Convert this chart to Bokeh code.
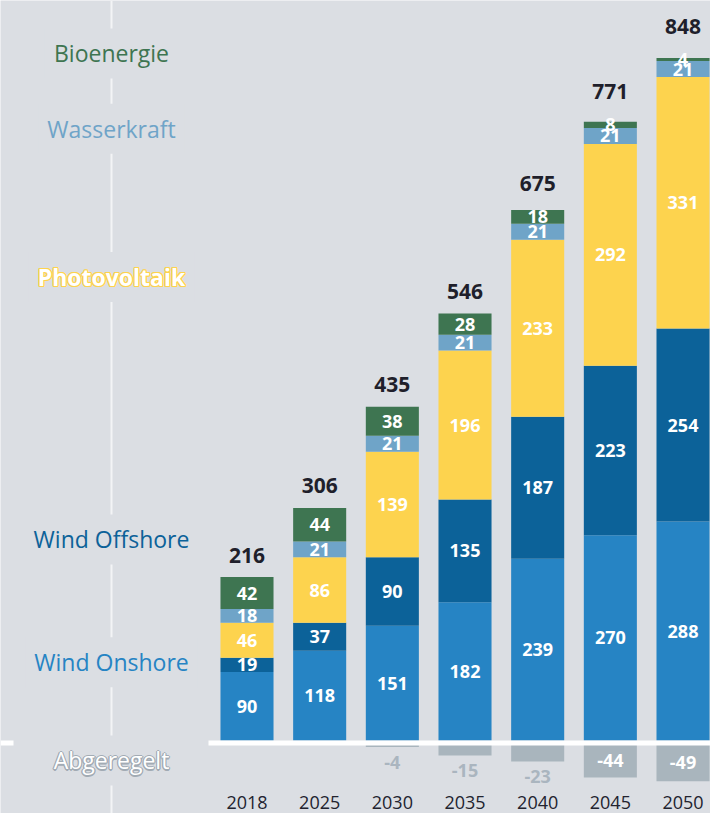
from bokeh.plotting import figure
from bokeh.models import ColumnDataSource, Label, Range1d
from bokeh.core.properties import value
from bokeh.embed import file_html
from bokeh.resources import INLINE

# ---------------- data ----------------
years = ["2018", "2025", "2030", "2035", "2040", "2045", "2050"]
wind_onshore = [90, 118, 151, 182, 239, 270, 288]
wind_offshore = [19, 37, 90, 135, 187, 223, 254]
photovoltaik = [46, 86, 139, 196, 233, 292, 331]
wasserkraft = [18, 21, 21, 21, 21, 21, 21]
bioenergie = [42, 44, 38, 28, 18, 8, 4]
abgeregelt = [0, 0, -4, -15, -23, -44, -49]
totals = [216, 306, 435, 546, 675, 771, 848]

categories = ["Wind Onshore", "Wind Offshore", "Photovoltaik", "Wasserkraft", "Bioenergie"]
series = [wind_onshore, wind_offshore, photovoltaik, wasserkraft, bioenergie]

# ---------------- styles / layout ----------------
BG = "#dbdee3"
colors = {"Wind Onshore": "#2684c4", "Wind Offshore": "#0c6299", "Photovoltaik": "#fdd34e",
          "Wasserkraft": "#6fa4c8", "Bioenergie": "#3e7551"}
NEG_COLOR = "#a9b5bd"
NEG_TEXT = "#aab5bf"
FONT = "Open Sans"

W, H = 710, 813
PX = 0.76            # pixels per unit
BASE_PX = 73         # zero line, pixels from bottom
X0_PX = 246.5        # first bar centre, pixels from left
STEP_PX = 72.67      # bar spacing in pixels
BAR_W = 0.73

p = figure(width=W, height=H,
           x_range=Range1d(-X0_PX / STEP_PX, (W - X0_PX) / STEP_PX),
           y_range=Range1d(-BASE_PX / PX, (H - BASE_PX) / PX),
           x_axis_type=None, y_axis_type=None, toolbar_location=None,
           output_backend="svg", min_border=0,
           background_fill_color=BG, border_fill_color=BG, outline_line_color=None)

xs = list(range(len(years)))
data = {"x": xs}
for c, s in zip(categories, series):
    data[c] = s
src = ColumnDataSource(data)
p.vbar_stack(categories, x="x", width=BAR_W, color=[colors[c] for c in categories],
             line_color=None, source=src)

# segment labels
lx, ly, lt = [], [], []
for i in xs:
    base = 0
    for s in series:
        v = s[i]
        lx.append(i)
        ly.append(base + v / 2)
        lt.append(str(v))
        base += v
p.text(x=lx, y=ly, text=lt, text_align="center", text_baseline="middle",
       text_color="white", text_font=value(FONT), text_font_style="bold",
       text_font_size="18px")

# totals: placed above the bar or above the top segment label, whichever is higher
stack_top = [sum(s[i] for s in series) for i in xs]
anchor = [max(t, t - b / 2 + 11 / PX) for t, b in zip(stack_top, bioenergie)]
p.text(x=xs, y=anchor, text=[str(t) for t in totals], text_align="center",
       text_baseline="alphabetic", y_offset=-22, text_color="#1f1f2b",
       text_font=value(FONT), text_font_style="bold", text_font_size="21px")

# curtailment (negative) bars
GAP_U = 3.5 / PX
nx = [i for i in xs if abgeregelt[i] != 0]
nv = [abgeregelt[i] for i in nx]
p.vbar(x=nx, top=[-GAP_U] * len(nx), bottom=[-GAP_U + v for v in nv], width=BAR_W,
       color=NEG_COLOR, line_color=None)
in_x = [i for i, v in zip(nx, nv) if v <= -30]
in_y = [-GAP_U + v / 2 for v in nv if v <= -30]
in_t = [str(v) for v in nv if v <= -30]
p.text(x=in_x, y=in_y, text=in_t, text_align="center", text_baseline="middle",
       text_color="white", text_font=value(FONT), text_font_style="bold", text_font_size="18px")
out_x = [i for i, v in zip(nx, nv) if v > -30]
out_y = [-GAP_U + v for v in nv if v > -30]
out_t = [str(v) for v in nv if v > -30]
p.text(x=out_x, y=out_y, text=out_t, text_align="center", text_baseline="middle", y_offset=15,
       text_color=NEG_TEXT, text_font=value(FONT), text_font_style="bold", text_font_size="18px")

# white zero line
base_y = -2.5 / PX
x_start = p.x_range.start
x_end = p.x_range.end
p.segment(x0=[-BAR_W / 2 - 0.165, x_start], x1=[x_end, (13 - X0_PX) / STEP_PX],
          y0=[base_y, base_y], y1=[base_y, base_y], line_color="white", line_width=5)

# year labels
YEAR_Y = -62 / PX
p.text(x=xs, y=[YEAR_Y] * len(xs), text=years, text_align="center",
       text_baseline="middle", text_color="#22232f",
       text_font=value(FONT), text_font_size="18px")

# legend column: vertical line broken by labels
LX = (111 - X0_PX) / STEP_PX
p.segment(x0=[LX], x1=[LX], y0=[p.y_range.start], y1=[p.y_range.end],
          line_color="#f3f4f6", line_width=2)

legend_items = ["Bioenergie", "Wasserkraft", "Photovoltaik", "Wind Offshore", "Wind Onshore", "Abgeregelt"]
legend_y = [904, 805, 610, 264.5, 103, -26.3]
legend_color = [colors["Bioenergie"], colors["Wasserkraft"], "white", colors["Wind Offshore"],
                colors["Wind Onshore"], "white"]
legend_glow = [None, None, colors["Photovoltaik"], None, None, "#a2abb4"]
legend_bold = ["normal", "normal", "bold", "normal", "normal", "normal"]
GLOW = [(-1.2, 0), (1.2, 0), (0, -1.2), (0, 1.2), (-0.9, -0.9), (0.9, 0.9), (-0.9, 0.9), (0.9, -0.9)]
for name, yv, col, gc, fs in zip(legend_items, legend_y, legend_color, legend_glow, legend_bold):
    common = dict(x=LX, y=yv, text=name, text_align="center", text_baseline="middle",
                  text_font=FONT, text_font_size="23px", text_font_style=fs)
    p.add_layout(Label(text_color=col if gc is None else gc, background_fill_color=BG,
                       padding=9, **common))
    if gc is not None:
        for dx, dy in GLOW:
            p.add_layout(Label(text_color=gc, x_offset=dx, y_offset=dy, **common))
        p.add_layout(Label(text_color=col, **common))

open("out.html", "w").write(file_html(p, INLINE))
